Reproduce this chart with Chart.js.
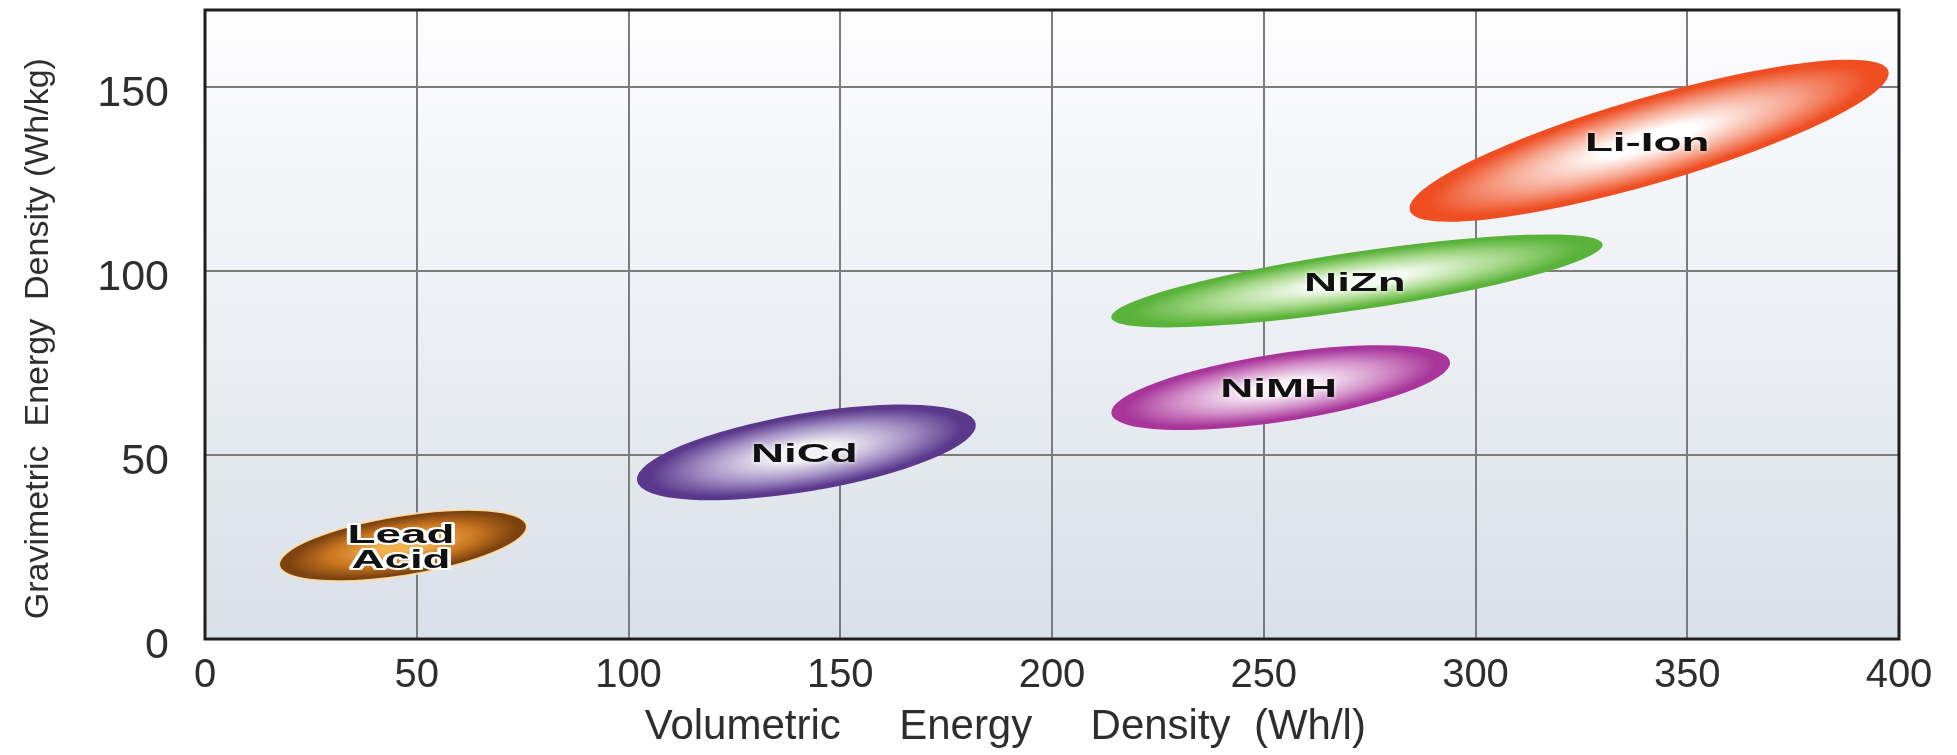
<!DOCTYPE html>
<html>
<head>
<meta charset="utf-8">
<script src="https://cdn.jsdelivr.net/npm/chart.js@4.4.0/dist/chart.umd.min.js"></script>
<style>
    html, body { margin: 0; padding: 0; background: #fff; }
</style>
</head>
<body>
<canvas id="canvas-1" width="1957" height="755"></canvas>
<script>
(function () {
    'use strict';

    // battery chemistries and the ends of each band (Wh/l, Wh/kg)
    var batteries = ['Lead\nAcid', 'NiCd', 'NiMH', 'NiZn', 'Li-Ion'];
    var volLow   = [17.5, 102, 214, 214, 284.5];
    var volHigh  = [76, 182, 294, 330, 397.5];
    var gravLow  = [20, 43, 61.3, 87.4, 116.5];
    var gravHigh = [30.8, 58.5, 75.4, 107.3, 154.4];
    var xTicks = [0, 50, 100, 150, 200, 250, 300, 350, 400];
    var yTicks = [0, 50, 100, 150];

    // look of each band
    var bandStyle = {
        'Lead\nAcid': { thick: 30, inner: '#f3b050', mid: '#c8751f', outer: '#7c4210', rim: 'rgba(255,225,170,0.9)' },
        'NiCd':   { thick: 39, inner: '#f2f1f5', mid: '#a593c6', outer: '#5a388c' },
        'NiMH':   { thick: 34, inner: '#f8f0f7', mid: '#d390c9', outer: '#a8359a' },
        'NiZn':   { thick: 29, inner: '#f5fbf1', mid: '#a5d888', outer: '#59b239' },
        'Li-Ion': { thick: 43, inner: '#ffffff', mid: '#f6a58e', outer: '#ee4e22' }
    };

    var datasets = [];
    for (var i = 0; i < batteries.length; i++) {
        datasets.push({
            label: batteries[i],
            data: [{ x: volLow[i], y: gravLow[i] }, { x: volHigh[i], y: gravHigh[i] }],
            pointRadius: 0,
            pointHoverRadius: 0,
            showLine: false
        });
    }

    var plotBackground = {
        id: 'plotBackground',
        beforeDraw: function (chart) {
            var ctx = chart.ctx, a = chart.chartArea;
            var g = ctx.createLinearGradient(0, a.top, 0, a.bottom);
            g.addColorStop(0, '#fdfdfe');
            g.addColorStop(0.5, '#eceff4');
            g.addColorStop(1, '#d9e0e8');
            ctx.save();
            ctx.fillStyle = g;
            ctx.fillRect(a.left, a.top, a.right - a.left, a.bottom - a.top);
            ctx.restore();
        },
        afterDraw: function (chart) {
            var ctx = chart.ctx, a = chart.chartArea;
            ctx.save();
            ctx.strokeStyle = '#1e1e1e';
            ctx.lineWidth = 3;
            ctx.strokeRect(a.left, a.top, a.right - a.left, a.bottom - a.top);
            ctx.restore();
        }
    };

    var bands = {
        id: 'bands',
        afterDatasetsDraw: function (chart) {
            var ctx = chart.ctx;
            var xs = chart.scales.x, ys = chart.scales.y;
            chart.data.datasets.forEach(function (ds) {
                var st = bandStyle[ds.label];
                var x1 = xs.getPixelForValue(ds.data[0].x), y1 = ys.getPixelForValue(ds.data[0].y);
                var x2 = xs.getPixelForValue(ds.data[1].x), y2 = ys.getPixelForValue(ds.data[1].y);
                var cx = (x1 + x2) / 2, cy = (y1 + y2) / 2;
                var r = Math.sqrt((x2 - x1) * (x2 - x1) + (y2 - y1) * (y2 - y1)) / 2;
                var ang = Math.atan2(y2 - y1, x2 - x1);

                ctx.save();
                ctx.translate(cx, cy);
                ctx.rotate(ang);
                ctx.scale(1, st.thick / r);
                var g = ctx.createRadialGradient(0, 0, 0, 0, 0, r);
                g.addColorStop(0, st.inner);
                g.addColorStop(0.2, st.inner);
                g.addColorStop(0.6, st.mid);
                g.addColorStop(0.92, st.outer);
                g.addColorStop(1, st.outer);
                ctx.beginPath();
                ctx.arc(0, 0, r, 0, Math.PI * 2);
                ctx.fillStyle = g;
                ctx.fill();
                ctx.restore();
                if (st.rim) {
                    ctx.save();
                    ctx.translate(cx, cy);
                    ctx.rotate(ang);
                    ctx.scale(1, st.thick / r);
                    ctx.beginPath();
                    ctx.arc(0, 0, r, 0, Math.PI * 2);
                    ctx.restore();
                    ctx.strokeStyle = st.rim;
                    ctx.lineWidth = 2;
                    ctx.stroke();
                }

                // name of the chemistry
                var lines = ds.label.split('\n');
                ctx.save();
                ctx.translate(cx - 2, cy + 3);
                ctx.scale(1.83, 1);
                ctx.font = 'bold 25px "Liberation Sans", Arial, sans-serif';
                ctx.textAlign = 'center';
                ctx.textBaseline = 'middle';
                ctx.lineJoin = 'round';
                for (var k = 0; k < lines.length; k++) {
                    var ty = (k - (lines.length - 1) / 2) * 25;
                    if (st.rim) {
                        ctx.strokeStyle = '#ffffff';
                        ctx.lineWidth = 4;
                        ctx.strokeText(lines[k], 0, ty);
                    } else {
                        ctx.shadowColor = 'rgba(255,255,255,0.9)';
                        ctx.shadowBlur = 4;
                    }
                    ctx.fillStyle = '#111111';
                    ctx.fillText(lines[k], 0, ty);
                }
                ctx.restore();
            });
        }
    };

    var ctx = document.getElementById('canvas-1');
    var chart = new Chart(ctx, {
        type: 'scatter',
        data: { datasets: datasets },
        plugins: [plotBackground, bands],
        options: {
            responsive: false,
            animation: false,
            layout: { padding: { top: 10, right: 58, left: 0, bottom: 0 } },
            plugins: {
                legend: { display: false },
                tooltip: { enabled: false }
            },
            scales: {
                x: {
                    type: 'linear',
                    min: 0,
                    max: 400,
                    afterBuildTicks: function (s) {
                        s.ticks = xTicks.map(function (v) { return { value: v }; });
                    },
                    afterFit: function (s) {
                        s.height = 116;
                        s.paddingLeft = 0;
                        s.paddingRight = 0;
                    },
                    grid: { color: '#7c7c7c', lineWidth: 2, drawTicks: false },
                    border: { display: false },
                    ticks: {
                        padding: 13,
                        color: '#2e2e2e',
                        maxRotation: 0,
                        font: { size: 40, family: '"Liberation Sans", Arial, sans-serif' }
                    },
                    title: {
                        display: true,
                        text: 'Volumetric     Energy     Density  (Wh/l)        ',
                        color: '#2e2e2e',
                        padding: { top: 0, bottom: 2 },
                        font: { size: 42, family: '"Liberation Sans", Arial, sans-serif' }
                    }
                },
                y: {
                    type: 'linear',
                    min: 0,
                    max: 171,
                    afterBuildTicks: function (s) {
                        s.ticks = yTicks.map(function (v) { return { value: v }; });
                    },
                    afterFit: function (s) {
                        s.width = 205;
                        s.paddingTop = 0;
                        s.paddingBottom = 0;
                    },
                    grid: { color: '#7c7c7c', lineWidth: 2, drawTicks: false },
                    border: { display: false },
                    ticks: {
                        padding: 36,
                        labelOffset: 7,
                        color: '#2e2e2e',
                        font: { size: 43, family: '"Liberation Sans", Arial, sans-serif' }
                    },
                    title: {
                        display: true,
                        text: 'Gravimetric  Energy  Density (Wh/kg)   ',
                        color: '#2e2e2e',
                        padding: { top: 18, bottom: 0 },
                        font: { size: 34, family: '"Liberation Sans", Arial, sans-serif' }
                    }
                }
            }
        }
    });
})();
</script>
</body>
</html>
